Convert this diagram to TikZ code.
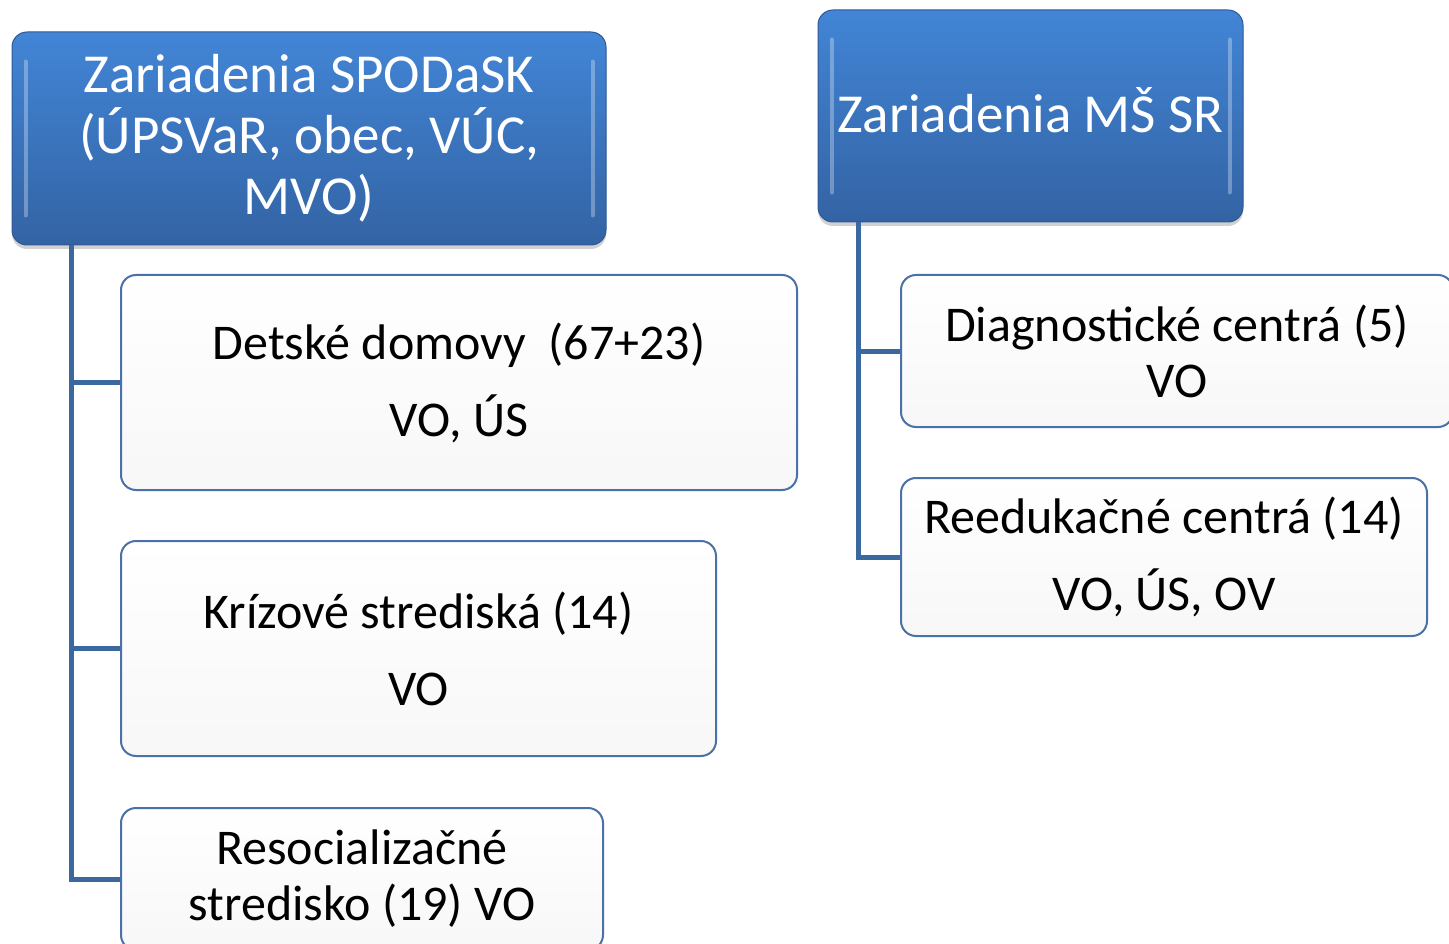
\documentclass[tikz,border=0pt]{standalone}
\usepackage{fontspec}
\setmainfont{Carlito}
\usetikzlibrary{calc,shadows}

\definecolor{headtop}{RGB}{66,133,214}
\definecolor{headbot}{RGB}{51,99,164}
\definecolor{lineblue}{RGB}{60,104,160}
\definecolor{boxedge}{RGB}{74,114,166}

\tikzset{
  headbox/.style={rounded corners=15pt, top color=headtop, bottom color=headbot,
    draw=headbot!90!black, line width=1pt, text=white, align=center, inner sep=0pt,
    drop shadow={shadow xshift=0pt, shadow yshift=-4pt, opacity=0.18, fill=black},
    font=\fontsize{55}{61}\selectfont},
  childbox/.style={rounded corners=15pt, top color=white, bottom color=black!3,
    draw=boxedge, line width=2pt, text=black, align=center, inner sep=0pt,
    font=\fontsize{50}{56}\selectfont},
  conn/.style={lineblue, line width=5pt},
  gloss/.style={white, opacity=0.3, line width=4pt, line cap=round}
}

\begin{document}
\begin{tikzpicture}[x=1pt,y=-1pt]
   \useasboundingbox (0,0) rectangle (1449,944);
   \clip (0,0) rectangle (1449,944);
   % header boxes
   \node[headbox, minimum width=594, minimum height=213] (spodask) at (309,138.5)
      {Zariadenia SPODaSK\\(ÚPSVaR, obec, VÚC,\\MVO)};
   \node[headbox, minimum width=425, minimum height=212, text depth=12pt] (mssr) at (1030.5,116)
      {Zariadenia MŠ SR};
   \draw[gloss] ($(spodask.north west)+(14,30)$) -- ($(spodask.south west)+(14,-30)$);
   \draw[gloss] ($(spodask.north east)+(-14,30)$) -- ($(spodask.south east)+(-14,-30)$);
   \draw[gloss] ($(mssr.north west)+(14,30)$) -- ($(mssr.south west)+(14,-30)$);
   \draw[gloss] ($(mssr.north east)+(-14,30)$) -- ($(mssr.south east)+(-14,-30)$);
   % left column
   \node[childbox, minimum width=676, minimum height=215] (domovy) at (459,382.5)
      {Detské domovy~ (67+23)\\[21pt]VO, ÚS};
   \node[childbox, minimum width=595, minimum height=215] (krizove) at (418.5,648.5)
      {Krízové strediská (14)\\[21pt]VO};
   \node[childbox, minimum width=482, minimum height=142] (resoc) at (362,879)
      {Resocializačné\\stredisko (19) VO};
   % right column
   \node[childbox, minimum width=552, minimum height=152] (diag) at (1177,351)
      {Diagnostické centrá (5)\\VO};
   \node[childbox, minimum width=526, minimum height=158] (reedu) at (1164,557)
      {Reedukačné centrá (14)\\[21pt]VO, ÚS, OV};
   % connectors
   \coordinate (trunkA) at ($(spodask.south west)+(60,0)$);
   \coordinate (trunkB) at ($(mssr.south west)+(41,0)$);
   \draw[conn] (trunkA) |- (domovy.west);
   \draw[conn] (trunkA) |- (krizove.west);
   \draw[conn] (trunkA) |- (resoc.west);
   \draw[conn] (trunkB) |- (diag.west);
   \draw[conn] (trunkB) |- (reedu.west);
\end{tikzpicture}
\end{document}
